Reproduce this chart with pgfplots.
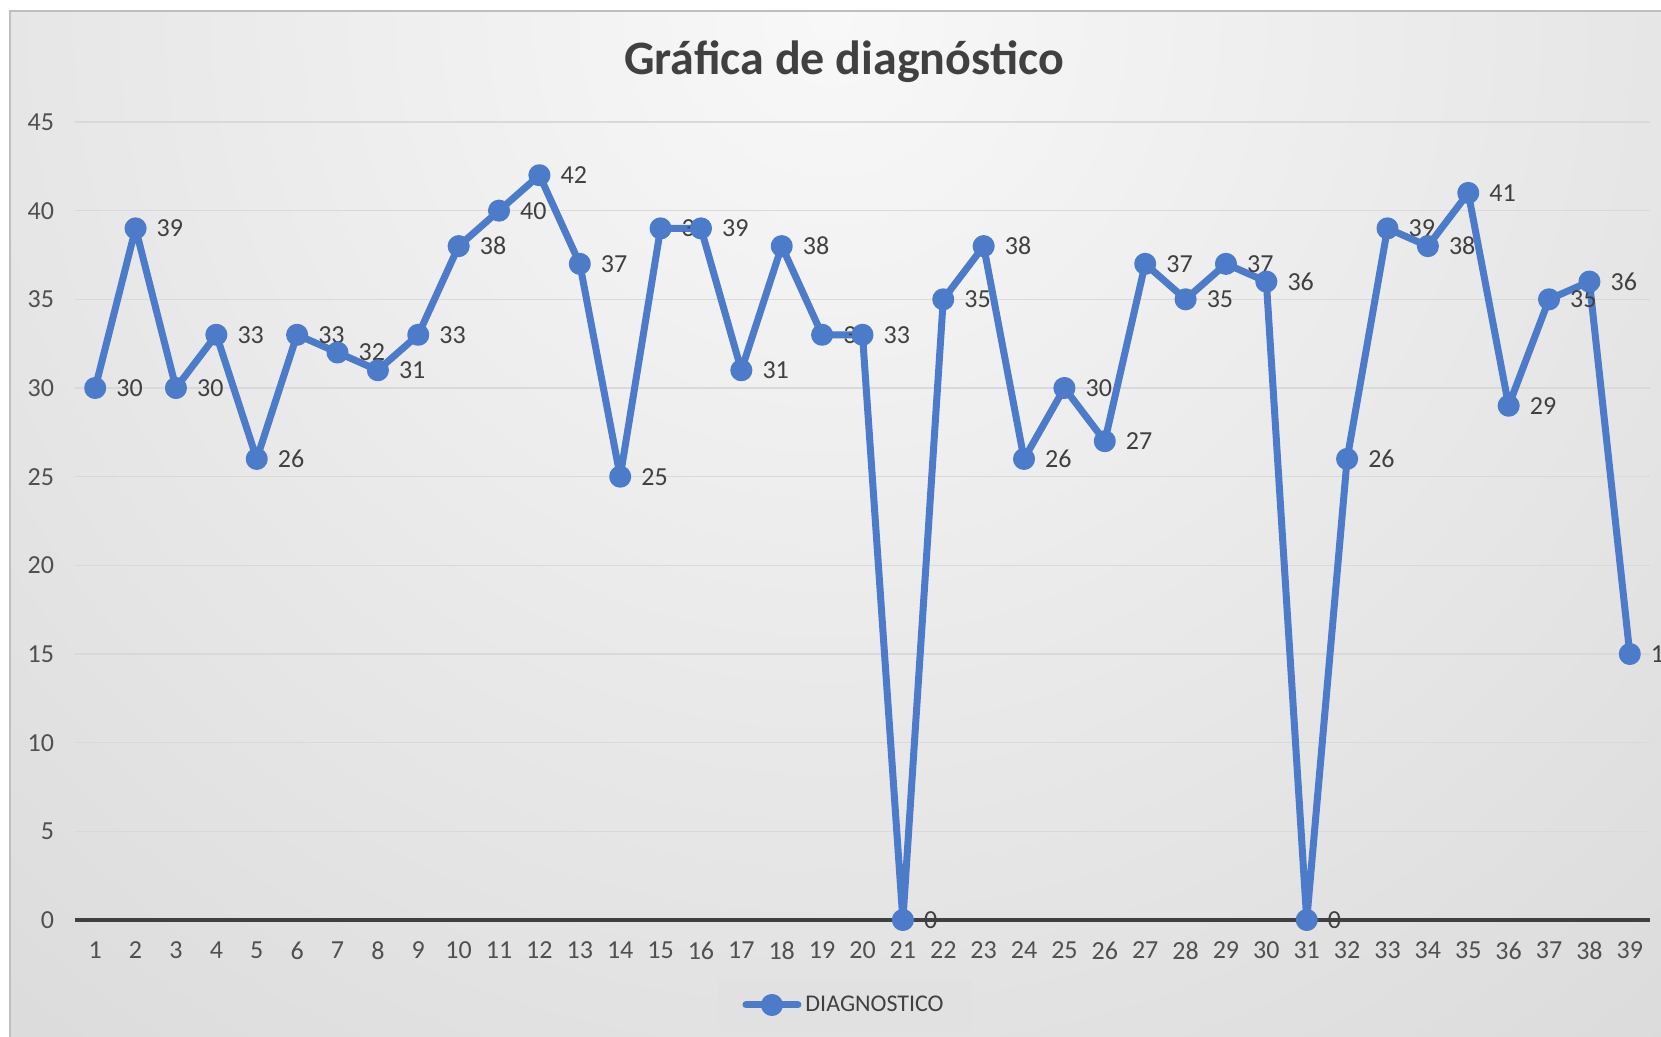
\documentclass[border=0pt]{standalone}
\usepackage{fontspec}
\setmainfont{Carlito}
\usepackage{pgfplots}
\pgfplotsset{compat=1.18}
\definecolor{serie}{HTML}{4C7BC9}
\definecolor{txt}{HTML}{404040}
\definecolor{tickc}{HTML}{505050}
\definecolor{gridc}{HTML}{D9D9D9}
\definecolor{axisc}{HTML}{404040}
\definecolor{framec}{HTML}{BFBFBF}
\definecolor{legfill}{HTML}{E1E1E1}
\definecolor{bgA}{HTML}{F8F8F8}
\definecolor{bgB}{HTML}{BBBBBB}
\pgfdeclareradialshading{fondo}{\pgfpoint{0bp}{0bp}}{color(0bp)=(bgA); color(50bp)=(bgB)}
\newcommand\lblfont{\fontsize{13}{15}\selectfont}

\begin{document}
\begin{tikzpicture}
\useasboundingbox (0,0) rectangle (830.5pt,518.5pt);
\clip (0,0) rectangle (830.5pt,518.5pt);
\fill[white] (0,0) rectangle (830.5pt,518.5pt);
\begin{scope}
  \clip (5pt,0) rectangle (830.5pt,513pt);
  \shade[shading=fondo] (415pt,510pt) circle (700pt);
\end{scope}
\draw[framec, line width=0.6pt] (5pt,0) -- (5pt,513pt) -- (830.5pt,513pt);
\node[anchor=base, font=\fontsize{24}{28}\selectfont\bfseries, text=txt]
  at (422pt,481pt) {Gráfica de diagnóstico};

\begin{axis}[
  at={(37.5pt,58.5pt)}, anchor=south west,
  scale only axis, width=787.5pt, height=399pt,
  xmin=0.5, xmax=39.5, ymin=0, ymax=45,
  xtick={1,...,39}, ytick={0,5,...,45},
  axis lines*=left,
  x axis line style={draw=axisc, line width=1.75pt},
  y axis line style={draw=none},
  tick style={draw=none}, major tick length=0pt,
  ymajorgrids, grid style={draw=gridc, line width=0.75pt},
  /pgf/number format/assume math mode=true,
  xticklabel style={font=\lblfont, text=tickc, yshift=-7.5pt},
  yticklabel style={font=\lblfont, text=tickc, xshift=-7pt},
  clip=false,
  nodes near coords,
  every node near coord/.append style={anchor=west, xshift=5.5pt, font=\lblfont, text=txt},
  legend style={at={(0.4889,-0.1065)}, anchor=center, draw=none, fill=legfill,
    inner xsep=12pt, inner ysep=6pt, font=\fontsize{12}{14}\selectfont, text=txt},
  legend image code/.code={%
    \draw[mark repeat=2, mark phase=2] plot coordinates {(0pt,0pt) (13pt,0pt) (26pt,0pt)};}
]
\addplot[color=serie, line width=3.5pt, line join=round, line cap=round,
  mark=*, mark size=3.75pt, mark options={draw=none, fill=serie}]
coordinates {
  (1,30) (2,39) (3,30) (4,33) (5,26) (6,33) (7,32) (8,31) (9,33) (10,38)
  (11,40) (12,42) (13,37) (14,25) (15,39) (16,39) (17,31) (18,38) (19,33) (20,33)
  (21,0) (22,35) (23,38) (24,26) (25,30) (26,27) (27,37) (28,35) (29,37) (30,36)
  (31,0) (32,26) (33,39) (34,38) (35,41) (36,29) (37,35) (38,36) (39,15)
};
\addlegendentry{DIAGNOSTICO}
\end{axis}
\end{tikzpicture}
\end{document}
